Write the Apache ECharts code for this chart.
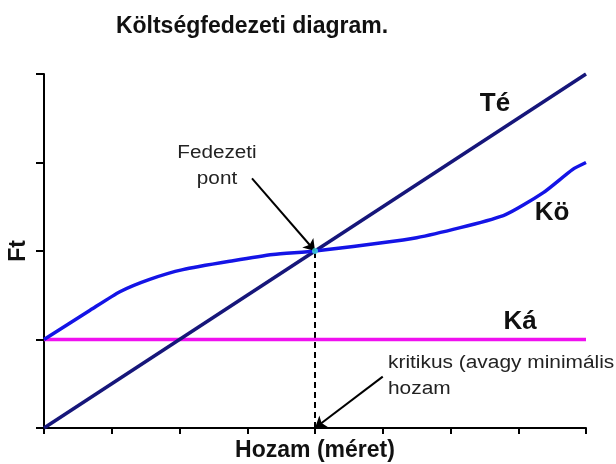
<!DOCTYPE html>
<html>
<head>
<meta charset="utf-8">
<script src="https://cdn.jsdelivr.net/npm/echarts@6/dist/echarts.min.js"></script>
<style>
  html, body { margin: 0; padding: 0; background: #fff; }
  #main { width: 616px; height: 464px; }
</style>
</head>
<body>
<div id="main"></div>
<script>
// Hozam (x) 0..8, Ft (y) 0..4
var teData = [[0, 0], [8, 4]];
var koData = [[0, 1.0], [0.68, 1.33], [1.12, 1.54], [1.56, 1.68], [2.05, 1.79], [2.79, 1.89],
    [3.38, 1.96], [4.0, 2.0], [5.5, 2.15], [6.78, 2.40], [7.37, 2.66], [7.8, 2.92], [8, 3.0]];
var kaData = [[0, 1], [8, 1]];
var fedezetiPont = [4, 2];
var kritikusHozam = [4, 0];

var font = '"Liberation Sans", Arial, sans-serif';

// text placed at x,y (anchor); stretch widens the lettering like the original
function label(txt, x, y, size, bold, stretch, align) {
    return {
        type: 'text', x: x, y: y, z: 10, scaleX: stretch || 1,
        style: {
            text: txt, font: (bold ? 'bold ' : '') + size + 'px ' + font,
            fill: bold ? '#111' : '#222',
            textAlign: align || 'center', textVerticalAlign: 'middle'
        }
    };
}

var myChart = echarts.init(document.getElementById('main'));
var option = {
    animation: false,
    title: {
        text: 'Költségfedezeti diagram.',
        left: 247, top: 10, textAlign: 'center',
        textStyle: { fontFamily: font, fontSize: 23, fontWeight: 'bold', color: '#111' }
    },
    grid: { left: 44, right: 30, top: 74, bottom: 36, outerBoundsMode: 'none' },
    xAxis: {
        type: 'value', min: 0, max: 8, interval: 1,
        name: 'Hozam (méret)', nameLocation: 'middle', nameGap: 11,
        nameTextStyle: { fontFamily: font, fontSize: 23, fontWeight: 'bold', color: '#111' },
        axisLine: { lineStyle: { color: '#000', width: 2 } },
        axisTick: { length: 6, lineStyle: { color: '#000', width: 2 } },
        axisLabel: { show: false },
        splitLine: { show: false }
    },
    yAxis: {
        type: 'value', min: 0, max: 4, interval: 1,
        name: 'Ft', nameLocation: 'middle', nameGap: 14, nameRotate: 90,
        nameTextStyle: { fontFamily: font, fontSize: 23, fontWeight: 'bold', color: '#111' },
        axisLine: { show: true, lineStyle: { color: '#000', width: 2 } },
        axisTick: { show: true, length: 8, lineStyle: { color: '#000', width: 2 } },
        axisLabel: { show: false },
        splitLine: { show: false }
    },
    graphic: [
        label('Té', 495, 104, 26, true),
        label('Kö', 552, 213, 26, true),
        label('Ká', 520, 322, 26, true),
        label('Fedezeti', 217, 153, 18, false, 1.15),
        label('pont', 217, 179, 18, false, 1.15),
        label('kritikus (avagy minimális', 388, 363, 18, false, 1.16, 'left'),
        label('hozam', 388, 389, 18, false, 1.16, 'left')
    ],
    series: [
        {
            name: 'Ká', type: 'line', data: kaData, symbol: 'none', z: 2,
            lineStyle: { color: '#f010f0', width: 3.5 }
        },
        {
            name: 'Té', type: 'line', data: teData, symbol: 'none', z: 3,
            lineStyle: { color: '#16167a', width: 3.5 }
        },
        {
            name: 'Kö', type: 'line', data: koData, symbol: 'none', z: 4, smooth: 0.2,
            lineStyle: { color: '#1414e6', width: 3.5 }
        },
        {
            type: 'line', data: [kritikusHozam, fedezetiPont], symbol: 'none', z: 1,
            lineStyle: { color: '#000', width: 2, type: [6, 4] },
            markLine: {
                silent: true, symbol: ['none', 'arrow'], symbolSize: 11,
                label: { show: false },
                lineStyle: { color: '#000', width: 2, type: 'solid' },
                data: [
                    [{ coord: [3.07, 2.82] }, { coord: fedezetiPont }],
                    [{ coord: [5.0, 0.58] }, { coord: kritikusHozam }]
                ]
            }
        },
        {
            type: 'scatter', data: [fedezetiPont], symbolSize: 6, z: 5,
            itemStyle: { color: '#40e0e0' }
        }
    ]
};
myChart.setOption(option);
</script>
</body>
</html>
